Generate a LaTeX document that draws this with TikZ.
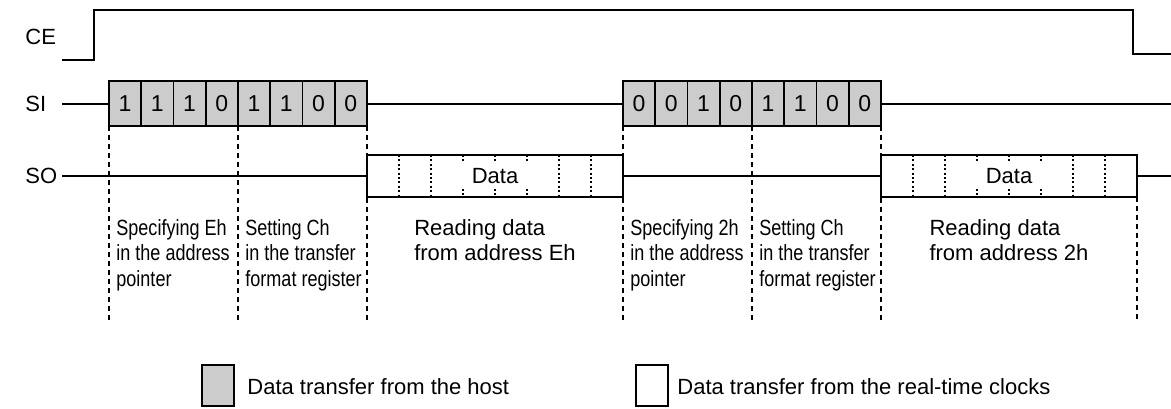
\documentclass[tikz,border=0pt]{standalone}
\usepackage{fontspec}
\setmainfont{Liberation Sans}
\newfontfamily\narrowfont[FakeStretch=0.82]{Liberation Sans}
\usetikzlibrary{positioning}
\definecolor{cellgray}{HTML}{CCCCCC}
\begin{document}
\begin{tikzpicture}[x=0.5pt,y=-0.5pt,
  wave/.style={line width=1pt},
  sig/.style={anchor=west, inner sep=0pt, font=\fontsize{11}{13}\selectfont},
  bitcell/.style={draw, line width=0.9pt, fill=cellgray, inner sep=0pt,
    minimum width=16.125pt, minimum height=22.5pt, font=\fontsize{11.5}{13}\selectfont},
  databox/.style={draw, line width=0.9pt, fill=white, inner sep=0pt,
    minimum width=128pt, minimum height=21pt, font=\fontsize{11}{13}\selectfont},
  marker/.style={line width=0.9pt, dash pattern=on 2.5pt off 2pt},
  divider/.style={line width=0.7pt, dash pattern=on 1pt off 1.2pt},
  phase/.style={anchor=north west, inner sep=0pt, align=left,
    font=\narrowfont\fontsize{11}{12.75}\selectfont},
  reading/.style={anchor=north, inner sep=0pt, align=left,
    font=\fontsize{11}{12.75}\selectfont},
  keybox/.style={draw, line width=0.8pt, inner sep=0pt,
    minimum width=16pt, minimum height=20.5pt},
  keytext/.style={anchor=base west, inner sep=0pt, font=\fontsize{11}{13}\selectfont}]
\useasboundingbox (0,0) rectangle (1171,408);

% signal names
\node[sig] (lce) at (25,37) {CE};
\node[sig] (lsi) at (25,103.5) {SI};
\node[sig] (lso) at (25,176) {SO};

% CE waveform
\draw[wave] (62,60) -- (94,60) -- (94,10) -- (1133,10) -- (1133,54) -- (1171,54);

% SI bit cells
\foreach \b [count=\i] in {1,1,1,0,1,1,0,0}
  \node[bitcell] (b\i) at ({109+32.25*(\i-0.5)},103.5) {\b};
\foreach \b [count=\i] in {0,0,1,0,1,1,0,0}
  \node[bitcell] (c\i) at ({623+32.25*(\i-0.5)},103.5) {\b};
\coordinate (si0) at (62,103.5);
\coordinate (si1) at (1171,103.5);
\path[draw,wave] (si0) -- (b1.west);
\path[draw,wave] (b8.east) -- (c1.west);
\path[draw,wave] (c8.east) -- (si1);

% SO data boxes
\foreach \x in {367,881}
  \foreach \k in {1,2,6,7}
    \draw[divider] ({\x+32*\k},155) -- ({\x+32*\k},197);
\node[databox, fill=none] (d1) at (495,176) {};
\node[databox, fill=none] (d2) at (1009,176) {};
\foreach \x in {367,881}
  \foreach \k in {3,4,5} {
    \draw[divider] ({\x+32*\k},155) -- ({\x+32*\k},163);
    \draw[divider] ({\x+32*\k},189) -- ({\x+32*\k},197);
  }
\node[font=\fontsize{11}{13}\selectfont] at (d1) {Data};
\node[font=\fontsize{11}{13}\selectfont] at (d2) {Data};
\coordinate (so0) at (62,176);
\coordinate (so1) at (1171,176);
\path[draw,wave] (so0) -- (d1.west);
\path[draw,wave] (d1.east) -- (d2.west);
\path[draw,wave] (d2.east) -- (so1);

% phase markers
\foreach \x in {109,238,367,623,752,881}
  \draw[marker] (\x,126) -- (\x,322);
\draw[marker] (1137,197) -- (1137,320);

% phase texts
\node[phase] (p1) at (116,219) {Specifying Eh\\in the address\\pointer};
\node[phase] (p2) at (245,219) {Setting Ch\\in the transfer\\format register};
\node[reading] (r1) at (495,219) {Reading data\\from address Eh};
\node[phase] (p3) at (630,219) {Specifying 2h\\in the address\\pointer};
\node[phase] (p4) at (759,219) {Setting Ch\\in the transfer\\format register};
\node[reading] (r2) at (1009,219) {Reading data\\from address 2h};

% legend
\node[keybox, fill=cellgray] (khost) at (218,385.5) {};
\node[keytext] (thost) at (247,394) {Data transfer from the host};
\node[keybox] (krtc) at (652,385.5) {};
\node[keytext] (trtc) at (677,394) {Data transfer from the real-time clocks};
\end{tikzpicture}
\end{document}
